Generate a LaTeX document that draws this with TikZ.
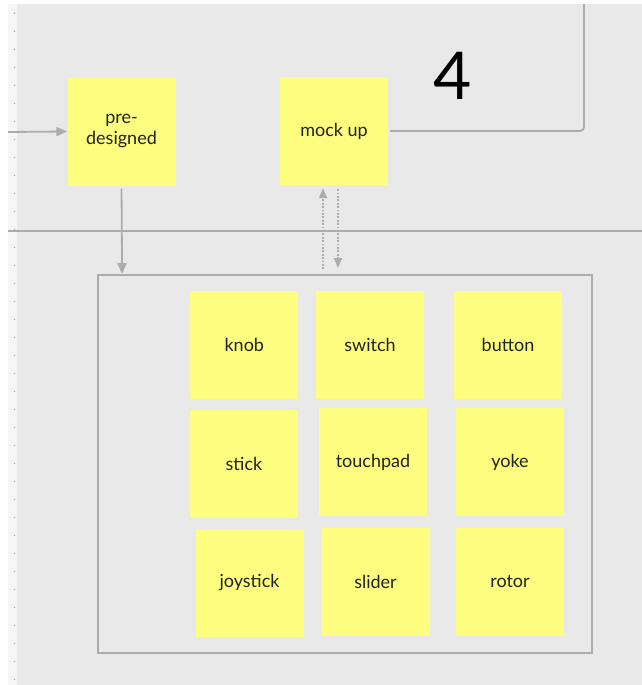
\documentclass[tikz,border=0pt]{standalone}
\usepackage{fontspec}
\setmainfont{Lato}
\usepackage{tikz}
\usetikzlibrary{
    arrows.meta,
    positioning,
    calc
}
\definecolor{boardgray}{RGB}{233,233,233}
\definecolor{rulergray}{RGB}{246,246,246}
\definecolor{linegray}{RGB}{172,172,172}
\definecolor{stickyyellow}{RGB}{253,253,128}
\definecolor{inkgray}{RGB}{34,34,34}
\tikzset{
    note/.style={
        fill=stickyyellow,
        minimum width=108pt,
        minimum height=108pt,
        inner sep=0pt,
        align=center,
        text=inkgray,
        font=\fontsize{18}{21}\selectfont
    }
}
\tikzset{
    frame/.style={
        draw=linegray,
        line width=1.8pt,
        minimum width=494pt,
        minimum height=378pt
    }
}
\tikzset{
    link/.style={
        draw=linegray,
        line width=1.8pt
    }
}
\tikzset{
    flow/.style={
        link,
        -{Triangle[length=11pt,width=9pt]}
    }
}
\tikzset{
    dotflow/.style={
        draw=linegray,
        line width=1.8pt,
        dash pattern=on 1.8pt off 1.6pt,
        -{Triangle[length=10pt,width=8pt]}
    }
}

\begin{document}
\begin{tikzpicture}[x=1pt, y=-1pt]

\useasboundingbox (0,0) rectangle (642,685);

% ------------------------------------------------------------
% Board and ruler strip
% ------------------------------------------------------------

\fill[white] (0,0) rectangle (642,685);
\fill[rulergray] (8,4) rectangle (17,685);
\fill[boardgray] (17,4) rectangle (642,685);
\foreach \k in {0,...,37} {
    \fill[linegray] (14.5,13.3+18*\k) circle (0.8pt);
}

% ------------------------------------------------------------
% Upper lane
% ------------------------------------------------------------

\node[note] (predesigned) at (121.5,131.5) {pre-\\designed};
\node[note] (mockup) at (334,131) {mock up};
\node[text=black, font=\fontsize{66}{66}\selectfont] (stage) at (453,76) {4};

\coordinate (inflow) at (8,132);
\coordinate (exit) at (584,4);
\draw[flow] (inflow) -- (predesigned.west);
\draw[link, rounded corners=4pt, shorten <=2pt] (mockup.east) -| (exit);

% lane divider
\coordinate (divleft) at (8,231);
\coordinate (divright) at (642,231);
\draw[link] (divleft) -- (divright);

% ------------------------------------------------------------
% Control palette
% ------------------------------------------------------------

\node[frame] (palette) at (345,464) {};

\node[note] (knob)     at (244.3,344.7) {knob};
\node[note] (switch)   at (370,344.7)   {switch};
\node[note] (button)   at (508,344.7)   {button};
\node[note] (stick)    at (244,464)     {stick};
\node[note] (touchpad) at (373,462)     {touchpad};
\node[note] (yoke)     at (510,462)     {yoke};
\node[note] (joystick) at (249.5,583)   {joystick};
\node[note] (slider)   at (375.5,581.5) {slider};
\node[note] (rotor)    at (510,581.5)   {rotor};

\draw[flow, shorten <=3pt] (predesigned.south) -- ($(palette.north west)+(25,0)$);
\draw[dotflow] ($(palette.north)+(-22,-5)$) -- ($(mockup.south)+(-11,3)$);
\draw[dotflow] ($(mockup.south)+(4,4)$) -- ($(palette.north)+(-7,-6)$);

\end{tikzpicture}
\end{document}
